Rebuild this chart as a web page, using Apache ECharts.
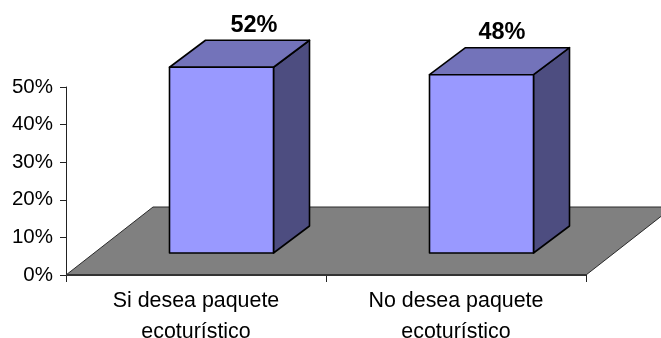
<!DOCTYPE html>
<html>
<head>
<meta charset="utf-8">
<style>
  html, body { margin: 0; padding: 0; background: #fff; }
  #chart { width: 661px; height: 338px; }
</style>
<script src="https://cdn.jsdelivr.net/npm/echarts@6/dist/echarts.min.js"></script>
</head>
<body>
<div id="chart"></div>
<script>
// datos
const categories = ['Si desea paquete\necoturístico', 'No desea paquete\necoturístico'];
const values = [52, 48];
const axisMax = 50;
const yTicks = 10;

// proyeccion falsa 3D, en pixeles
const floorDepth = { dx: 87, dy: 68 };
const barDepth = { dx: 36, dy: 27 };
const barLift = 22;
const barShift = 25.5;
const barScale = 0.988;
const labelShift = [[32.5, -42], [20.5, -42]];

const FONT = '"Liberation Sans", Arial, sans-serif';

const chart = echarts.init(document.getElementById('chart'), null, { renderer: 'canvas' });

function renderFloor(params, api) {
  const band = api.size([1, 0])[0];
  const left = api.coord([0, 0])[0] - band / 2;
  const right = api.coord([categories.length - 1, 0])[0] + band / 2;
  const y = api.coord([0, 0])[1];
  return {
    type: 'group',
    children: [
      {
        type: 'polygon',
        shape: {
          points: [
            [left, y],
            [right, y],
            [right + floorDepth.dx, y - floorDepth.dy],
            [left + floorDepth.dx, y - floorDepth.dy],
          ],
        },
        style: { fill: '#808080', stroke: '#2b2b2b', lineWidth: 1 },
      },
      {
        type: 'line',
        shape: { x1: left, y1: y, x2: right, y2: y },
        style: { stroke: '#333333', lineWidth: 2 },
      },
    ],
  };
}

function renderBar(params, api) {
  const i = api.value(0);
  const v = api.value(1);
  const band = api.size([1, 0])[0];
  const w = band * 0.4;
  const center = api.coord([i, 0]);
  const x0 = center[0] + barShift - w / 2;
  const x1 = x0 + w;
  const yBase = center[1] - barLift;
  // la barra se corta en el maximo del eje
  const h = api.size([0, Math.min(v, axisMax)])[1] * barScale;
  const yTop = yBase - h;
  const d = barDepth;
  const edge = { stroke: '#000', lineWidth: 1.6, lineJoin: 'round' };
  return {
    type: 'group',
    children: [
      {
        type: 'polygon',
        shape: { points: [[x1, yTop], [x1 + d.dx, yTop - d.dy], [x1 + d.dx, yBase - d.dy], [x1, yBase]] },
        style: { fill: '#4D4D80', ...edge },
      },
      {
        type: 'polygon',
        shape: { points: [[x0, yTop], [x0 + d.dx, yTop - d.dy], [x1 + d.dx, yTop - d.dy], [x1, yTop]] },
        style: { fill: '#7373BA', ...edge },
      },
      {
        type: 'rect',
        shape: { x: x0, y: yTop, width: w, height: h },
        style: { fill: '#9999FF', ...edge },
      },
      {
        type: 'text',
        style: {
          x: (x0 + x1) / 2 + labelShift[i][0],
          y: yTop + labelShift[i][1],
          text: v + '%',
          fill: '#000',
          font: 'bold 23.5px ' + FONT,
          textAlign: 'center',
          textVerticalAlign: 'middle',
        },
      },
    ],
  };
}

const option = {
  animation: false,
  backgroundColor: '#fff',
  grid: { left: 66, right: 75, top: 87, height: 188, outerBoundsMode: 'none' },
  xAxis: {
    type: 'category',
    data: categories,
    boundaryGap: true,
    axisLine: { onZero: false, lineStyle: { color: '#222', width: 1 } },
    axisTick: { show: true, length: 7, alignWithLabel: false, lineStyle: { color: '#222' } },
    axisLabel: {
      interval: 0,
      color: '#000',
      fontFamily: FONT,
      fontSize: 21.4,
      lineHeight: 31,
      margin: 11,
    },
  },
  yAxis: {
    type: 'value',
    min: 0,
    max: axisMax,
    interval: yTicks,
    splitLine: { show: false },
    axisLine: { show: true, lineStyle: { color: '#222', width: 1 } },
    axisTick: { show: true, length: 6, lineStyle: { color: '#222' } },
    axisLabel: {
      color: '#000',
      fontFamily: FONT,
      fontSize: 20.5,
      margin: 13,
      formatter: '{value}%',
    },
  },
  series: [
    {
      type: 'custom',
      name: 'piso',
      coordinateSystem: 'cartesian2d',
      clip: false,
      z: 1,
      silent: true,
      data: [[0, 0]],
      renderItem: renderFloor,
    },
    {
      type: 'custom',
      name: 'barras',
      coordinateSystem: 'cartesian2d',
      clip: false,
      z: 3,
      encode: { x: 0, y: 1 },
      data: values.map((v, i) => [i, v]),
      renderItem: renderBar,
    },
  ],
};

chart.setOption(option);
</script>
</body>
</html>
